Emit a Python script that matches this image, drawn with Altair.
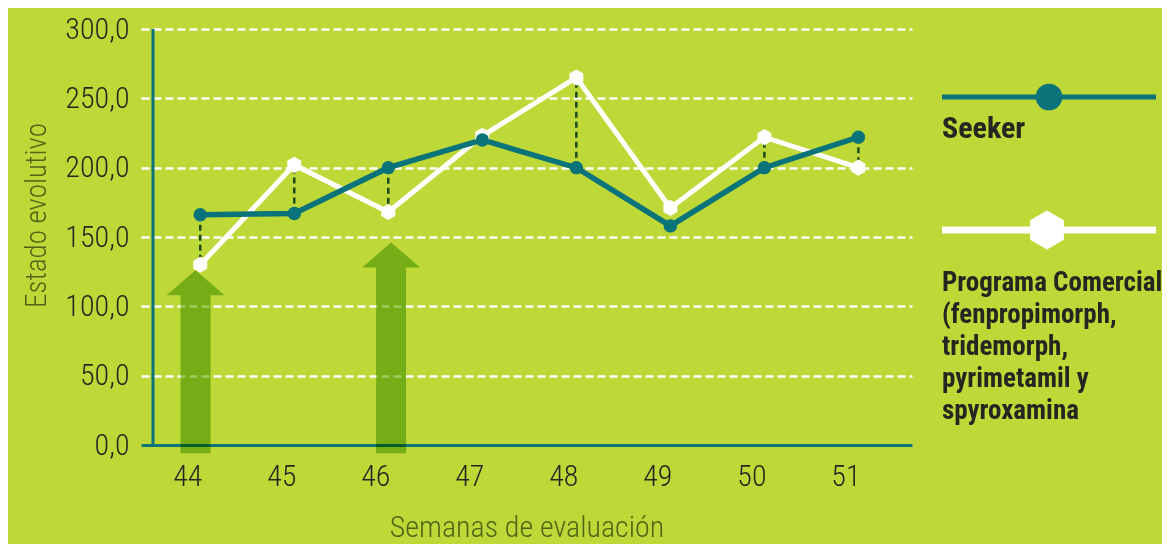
import altair as alt
import pandas as pd

# ---------------- data ----------------
weeks = [44, 45, 46, 47, 48, 49, 50, 51]
seeker = [166, 167, 200, 220, 200, 158, 200, 222]
comercial = [130, 202, 168, 223, 265, 171, 222, 200]
connector_weeks = [44, 45, 46, 48, 50, 51]
arrow_weeks = [43.95, 46.03]
arrow_tips = [126, 146]
y_ticks = [0, 50, 100, 150, 200, 250, 300]
series_names = ["Seeker", "Programa Comercial"]
legend_text_2 = ["Programa Comercial", "(fenpropimorph,", "tridemorph,",
                 "pyrimetamil y", "spyroxamina"]

# ---------------- styles ----------------
BG = "#bed838"
TEAL = "#0b737a"
WHITE = "#ffffff"
DASH = "#1b4b1e"
ARROW = "#9ecb5d"
TXT = "#262620"
OLIVE = "#4f6417"
FONT = "Roboto Condensed, Liberation Sans Narrow, DejaVu Sans Condensed, sans-serif"
HEX = "M0,-1L0.866,-0.5L0.866,0.5L0,1L-0.866,0.5L-0.866,-0.5Z"
TRI = "M-1,0L1,0L0,-0.862Z"
HEAD_LEN = 18  # arrow head length in data units

df = pd.DataFrame({"week": weeks, "seeker": seeker, "comercial": comercial})
conn = df[df["week"].isin(connector_weeks)]
arrows = pd.DataFrame({"week": arrow_weeks, "tip": arrow_tips})
arrows["base"] = arrows["tip"] - HEAD_LEN
arrows["bottom"] = -6
one = pd.DataFrame({"k": [0]})

xscale = alt.Scale(domain=[43.37, 51.57], nice=False, zero=False, padding=0)
yscale = alt.Scale(domain=[0, 300], nice=False, zero=False, padding=0)

xaxis = alt.Axis(values=weeks, format="d", title="Semanas de evaluación", grid=False,
                 ticks=False, domainColor=TEAL, domainWidth=3, labelOffset=-13,
                 labelPadding=16, labelFontSize=30, labelFontWeight=300, labelColor=TXT,
                 labelFont=FONT, titleFont=FONT, titleFontSize=30, titleFontWeight=300,
                 titleColor=OLIVE, titlePadding=21)
yaxis = alt.Axis(values=y_ticks, labelExpr="replace(format(datum.value, '.1f'), '.', ',')",
                 domain=False, ticks=False, grid=True, gridColor=WHITE, gridDash=[8, 4],
                 gridWidth=2.5, labelPadding=12, labelFontSize=30, labelFontWeight=300,
                 labelColor=TXT, labelFont=FONT, title="Estado evolutivo", titleFont=FONT,
                 titleFontSize=29, titleFontWeight=300, titleColor=OLIVE,
                 titlePadding=13, titleY=186)


def X(field):
    return alt.X(field, type="quantitative", scale=xscale, axis=xaxis)


def Y(field):
    return alt.Y(field, type="quantitative", scale=yscale, axis=yaxis)


# arrows (multiply blend like overprint)
shaft = alt.Chart(arrows).mark_bar(size=30, color=ARROW, blend="multiply").encode(
    x=X("week"), y=Y("bottom"), y2="base")
head = alt.Chart(arrows).mark_point(shape=TRI, size=3364, filled=True, fill=ARROW,
                                    opacity=1, strokeWidth=0, blend="multiply").encode(
    x=X("week"), y=Y("base"))

yline = alt.Chart(one).mark_rule(color=TEAL, strokeWidth=3).encode(
    x=alt.value(12), y=alt.datum(300, scale=yscale), y2=alt.datum(0))

connectors = alt.Chart(conn).mark_rule(color=DASH, strokeWidth=2.5, strokeDash=[6, 4]).encode(
    x=X("week"), y=Y("seeker"), y2="comercial")

line_c = alt.Chart(df).mark_line(color=WHITE, strokeWidth=5).encode(x=X("week"), y=Y("comercial"))
line_s = alt.Chart(df).mark_line(color=TEAL, strokeWidth=5.5).encode(x=X("week"), y=Y("seeker"))
pts_c = alt.Chart(df).mark_point(shape=HEX, size=260, filled=True, fill=WHITE, opacity=1,
                                 strokeWidth=0).encode(x=X("week"), y=Y("comercial"))
pts_s = alt.Chart(df).mark_point(shape="circle", size=180, filled=True, fill=TEAL, opacity=1,
                                 strokeWidth=0).encode(x=X("week"), y=Y("seeker"))

# legend (drawn by hand, outside plot area)
lg_line1 = alt.Chart(one).mark_rule(color=TEAL, strokeWidth=5).encode(
    x=alt.value(801), x2=alt.value(1015), y=alt.value(68))
lg_pt1 = alt.Chart(one).mark_point(shape="circle", size=707, filled=True, fill=TEAL,
                                   opacity=1, strokeWidth=0).encode(
    x=alt.value(908), y=alt.value(68))
lg_txt1 = alt.Chart(one).mark_text(text=series_names[0], font=FONT, fontSize=30,
                                   fontWeight="bold", color=TXT, align="left",
                                   baseline="alphabetic").encode(
    x=alt.value(801), y=alt.value(109))
lg_line2 = alt.Chart(one).mark_rule(color=WHITE, strokeWidth=7).encode(
    x=alt.value(801), x2=alt.value(1015), y=alt.value(201))
lg_pt2 = alt.Chart(one).mark_point(shape=HEX, size=1521, filled=True, fill=WHITE,
                                   opacity=1, strokeWidth=0).encode(
    x=alt.value(906), y=alt.value(201))
lg_txt2 = alt.Chart(one).mark_text(text=legend_text_2, font=FONT, fontSize=27,
                                   fontWeight="bold", color=TXT, align="left",
                                   baseline="alphabetic", lineHeight=32).encode(
    x=alt.value(801), y=alt.value(262))

chart = alt.layer(
    shaft, head, yline, connectors, line_c, line_s, pts_c, pts_s,
    lg_line1, lg_pt1, lg_txt1, lg_line2, lg_pt2, lg_txt2
).properties(
    width=771, height=416,
    autosize=alt.AutoSizeParams(type="none"),
    padding={"left": 133, "top": 21, "right": 250, "bottom": 99},
    background=BG,
).configure_view(stroke=None)

chart.save("out.html", embed_options={"renderer": "svg", "actions": False})
